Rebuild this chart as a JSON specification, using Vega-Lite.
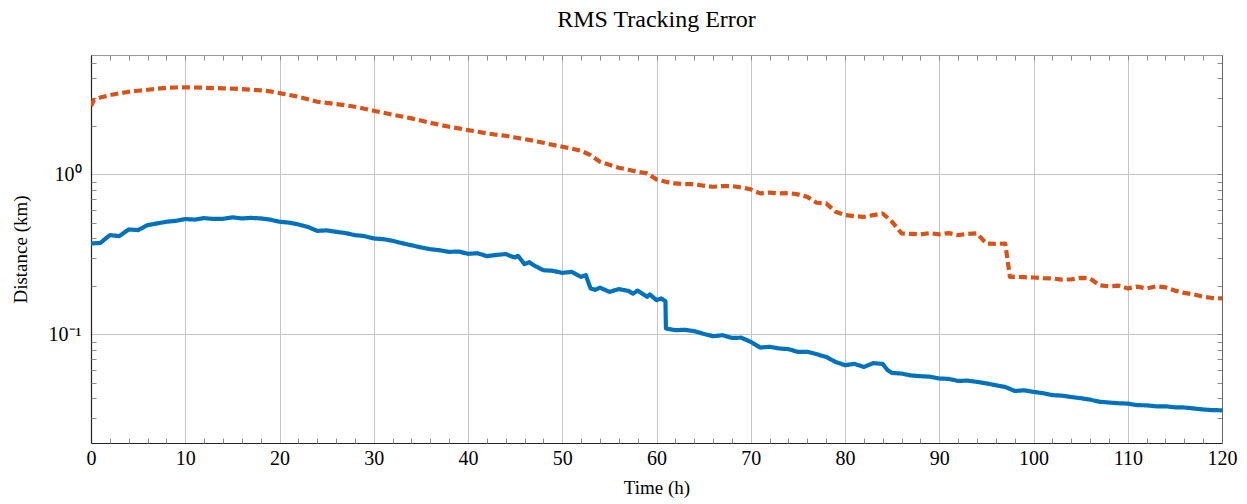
{
  "$schema": "https://vega.github.io/schema/vega-lite/v6.json",
  "width": 1131,
  "height": 388,
  "autosize": {"type": "none"},
  "padding": {"left": 91, "top": 55, "right": 25, "bottom": 61},
  "background": "white",
  "config": {
    "font": "Liberation Serif",
    "view": {"stroke": null},
    "axis": {"labelFont": "Liberation Serif", "titleFont": "Liberation Serif", "labelColor": "black", "titleColor": "black", "titleFontWeight": "normal"}
  },
  "title": {"text": "RMS Tracking Error", "font": "Liberation Serif", "fontSize": 24, "fontWeight": "normal", "color": "black", "offset": 23},
  "datasets": {
    "err": [
      {"t": 0, "v": 0.370, "s": "A"}, {"t": 1, "v": 0.3735, "s": "A"}, {"t": 2, "v": 0.4175, "s": "A"}, {"t": 3, "v": 0.4116, "s": "A"},
      {"t": 4, "v": 0.453, "s": "A"}, {"t": 5, "v": 0.449, "s": "A"}, {"t": 6, "v": 0.482, "s": "A"}, {"t": 7, "v": 0.494, "s": "A"},
      {"t": 8, "v": 0.506, "s": "A"}, {"t": 9, "v": 0.513, "s": "A"}, {"t": 10, "v": 0.526, "s": "A"}, {"t": 11, "v": 0.522, "s": "A"},
      {"t": 12, "v": 0.533, "s": "A"}, {"t": 13, "v": 0.527, "s": "A"}, {"t": 14, "v": 0.528, "s": "A"}, {"t": 15, "v": 0.539, "s": "A"},
      {"t": 16, "v": 0.531, "s": "A"}, {"t": 17, "v": 0.535, "s": "A"}, {"t": 18, "v": 0.531, "s": "A"}, {"t": 19, "v": 0.522, "s": "A"},
      {"t": 20, "v": 0.506, "s": "A"}, {"t": 21, "v": 0.500, "s": "A"}, {"t": 22, "v": 0.487, "s": "A"}, {"t": 23, "v": 0.470, "s": "A"},
      {"t": 24, "v": 0.444, "s": "A"}, {"t": 25, "v": 0.447, "s": "A"}, {"t": 26, "v": 0.438, "s": "A"}, {"t": 27, "v": 0.430, "s": "A"},
      {"t": 28, "v": 0.4175, "s": "A"}, {"t": 29, "v": 0.412, "s": "A"}, {"t": 30, "v": 0.398, "s": "A"}, {"t": 31, "v": 0.394, "s": "A"},
      {"t": 32, "v": 0.385, "s": "A"}, {"t": 33, "v": 0.372, "s": "A"}, {"t": 34, "v": 0.361, "s": "A"}, {"t": 35, "v": 0.350, "s": "A"},
      {"t": 36, "v": 0.341, "s": "A"}, {"t": 37, "v": 0.336, "s": "A"}, {"t": 38, "v": 0.328, "s": "A"}, {"t": 39, "v": 0.330, "s": "A"},
      {"t": 40, "v": 0.319, "s": "A"}, {"t": 41, "v": 0.322, "s": "A"}, {"t": 42, "v": 0.3086, "s": "A"}, {"t": 43, "v": 0.314, "s": "A"},
      {"t": 44, "v": 0.318, "s": "A"}, {"t": 44.7, "v": 0.306, "s": "A"}, {"t": 45, "v": 0.303, "s": "A"}, {"t": 45.3, "v": 0.310, "s": "A"},
      {"t": 46, "v": 0.275, "s": "A"}, {"t": 46.5, "v": 0.283, "s": "A"}, {"t": 47, "v": 0.270, "s": "A"}, {"t": 48, "v": 0.252, "s": "A"},
      {"t": 49, "v": 0.250, "s": "A"}, {"t": 50, "v": 0.2427, "s": "A"}, {"t": 51, "v": 0.246, "s": "A"}, {"t": 52, "v": 0.229, "s": "A"},
      {"t": 52.5, "v": 0.235, "s": "A"}, {"t": 53, "v": 0.194, "s": "A"}, {"t": 53.5, "v": 0.190, "s": "A"}, {"t": 54, "v": 0.196, "s": "A"},
      {"t": 55, "v": 0.1846, "s": "A"}, {"t": 56, "v": 0.192, "s": "A"}, {"t": 57, "v": 0.1873, "s": "A"}, {"t": 57.5, "v": 0.180, "s": "A"},
      {"t": 58, "v": 0.188, "s": "A"}, {"t": 59, "v": 0.172, "s": "A"}, {"t": 59.3, "v": 0.178, "s": "A"}, {"t": 60, "v": 0.1638, "s": "A"},
      {"t": 60.5, "v": 0.168, "s": "A"}, {"t": 60.95, "v": 0.1615, "s": "A"}, {"t": 61, "v": 0.109, "s": "A"}, {"t": 62, "v": 0.1064, "s": "A"},
      {"t": 63, "v": 0.107, "s": "A"}, {"t": 64, "v": 0.1049, "s": "A"}, {"t": 65, "v": 0.101, "s": "A"}, {"t": 66, "v": 0.0976, "s": "A"},
      {"t": 67, "v": 0.099, "s": "A"}, {"t": 68, "v": 0.0952, "s": "A"}, {"t": 69, "v": 0.0955, "s": "A"}, {"t": 70, "v": 0.0899, "s": "A"},
      {"t": 71, "v": 0.0829, "s": "A"}, {"t": 72, "v": 0.0838, "s": "A"}, {"t": 73, "v": 0.0818, "s": "A"}, {"t": 74, "v": 0.081, "s": "A"},
      {"t": 75, "v": 0.0779, "s": "A"}, {"t": 76, "v": 0.078, "s": "A"}, {"t": 77, "v": 0.0753, "s": "A"}, {"t": 78, "v": 0.0724, "s": "A"},
      {"t": 79, "v": 0.0674, "s": "A"}, {"t": 80, "v": 0.0643, "s": "A"}, {"t": 81, "v": 0.0655, "s": "A"}, {"t": 82, "v": 0.0627, "s": "A"},
      {"t": 83, "v": 0.0662, "s": "A"}, {"t": 84, "v": 0.0655, "s": "A"}, {"t": 84.5, "v": 0.060, "s": "A"}, {"t": 85, "v": 0.0575, "s": "A"},
      {"t": 86, "v": 0.057, "s": "A"}, {"t": 87, "v": 0.0555, "s": "A"}, {"t": 88, "v": 0.0549, "s": "A"}, {"t": 89, "v": 0.0545, "s": "A"},
      {"t": 90, "v": 0.0531, "s": "A"}, {"t": 91, "v": 0.0528, "s": "A"}, {"t": 92, "v": 0.0513, "s": "A"}, {"t": 93, "v": 0.0515, "s": "A"},
      {"t": 94, "v": 0.0506, "s": "A"}, {"t": 95, "v": 0.0495, "s": "A"}, {"t": 96, "v": 0.0482, "s": "A"}, {"t": 97, "v": 0.047, "s": "A"},
      {"t": 98, "v": 0.0444, "s": "A"}, {"t": 99, "v": 0.0448, "s": "A"}, {"t": 100, "v": 0.0438, "s": "A"}, {"t": 101, "v": 0.043, "s": "A"},
      {"t": 102, "v": 0.0418, "s": "A"}, {"t": 103, "v": 0.0415, "s": "A"}, {"t": 104, "v": 0.0407, "s": "A"}, {"t": 105, "v": 0.040, "s": "A"},
      {"t": 106, "v": 0.0392, "s": "A"}, {"t": 107, "v": 0.038, "s": "A"}, {"t": 108, "v": 0.0376, "s": "A"}, {"t": 109, "v": 0.0372, "s": "A"},
      {"t": 110, "v": 0.037, "s": "A"}, {"t": 111, "v": 0.0362, "s": "A"}, {"t": 112, "v": 0.0361, "s": "A"}, {"t": 113, "v": 0.0356, "s": "A"},
      {"t": 114, "v": 0.0356, "s": "A"}, {"t": 115, "v": 0.0351, "s": "A"}, {"t": 116, "v": 0.035, "s": "A"}, {"t": 117, "v": 0.0345, "s": "A"},
      {"t": 118, "v": 0.034, "s": "A"}, {"t": 119, "v": 0.0337, "s": "A"}, {"t": 120, "v": 0.0336, "s": "A"},
      {"t": 0, "v": 2.673, "s": "B"}, {"t": 0.3, "v": 2.913, "s": "B"}, {"t": 1, "v": 3.02, "s": "B"}, {"t": 2, "v": 3.131, "s": "B"},
      {"t": 3, "v": 3.21, "s": "B"}, {"t": 4, "v": 3.284, "s": "B"}, {"t": 5, "v": 3.33, "s": "B"}, {"t": 6, "v": 3.379, "s": "B"},
      {"t": 7, "v": 3.43, "s": "B"}, {"t": 8, "v": 3.478, "s": "B"}, {"t": 9, "v": 3.49, "s": "B"}, {"t": 10, "v": 3.498, "s": "B"},
      {"t": 11, "v": 3.49, "s": "B"}, {"t": 12, "v": 3.478, "s": "B"}, {"t": 13, "v": 3.46, "s": "B"}, {"t": 14, "v": 3.448, "s": "B"},
      {"t": 15, "v": 3.43, "s": "B"}, {"t": 16, "v": 3.413, "s": "B"}, {"t": 17, "v": 3.38, "s": "B"}, {"t": 18, "v": 3.35, "s": "B"},
      {"t": 19, "v": 3.30, "s": "B"}, {"t": 20, "v": 3.222, "s": "B"}, {"t": 21, "v": 3.14, "s": "B"}, {"t": 22, "v": 3.055, "s": "B"},
      {"t": 23, "v": 2.95, "s": "B"}, {"t": 24, "v": 2.843, "s": "B"}, {"t": 25, "v": 2.80, "s": "B"}, {"t": 26, "v": 2.75, "s": "B"},
      {"t": 27, "v": 2.70, "s": "B"}, {"t": 28, "v": 2.646, "s": "B"}, {"t": 29, "v": 2.57, "s": "B"}, {"t": 30, "v": 2.498, "s": "B"},
      {"t": 31, "v": 2.43, "s": "B"}, {"t": 32, "v": 2.358, "s": "B"}, {"t": 33, "v": 2.30, "s": "B"}, {"t": 34, "v": 2.239, "s": "B"},
      {"t": 35, "v": 2.17, "s": "B"}, {"t": 36, "v": 2.101, "s": "B"}, {"t": 37, "v": 2.04, "s": "B"}, {"t": 38, "v": 1.984, "s": "B"},
      {"t": 39, "v": 1.94, "s": "B"}, {"t": 40, "v": 1.892, "s": "B"}, {"t": 41, "v": 1.85, "s": "B"}, {"t": 42, "v": 1.804, "s": "B"},
      {"t": 43, "v": 1.77, "s": "B"}, {"t": 44, "v": 1.743, "s": "B"}, {"t": 45, "v": 1.70, "s": "B"}, {"t": 46, "v": 1.662, "s": "B"},
      {"t": 47, "v": 1.62, "s": "B"}, {"t": 48, "v": 1.576, "s": "B"}, {"t": 49, "v": 1.53, "s": "B"}, {"t": 50, "v": 1.488, "s": "B"},
      {"t": 51, "v": 1.45, "s": "B"}, {"t": 52, "v": 1.404, "s": "B"}, {"t": 53, "v": 1.32, "s": "B"}, {"t": 54, "v": 1.199, "s": "B"},
      {"t": 55, "v": 1.15, "s": "B"}, {"t": 56, "v": 1.10, "s": "B"}, {"t": 57, "v": 1.07, "s": "B"}, {"t": 58, "v": 1.038, "s": "B"},
      {"t": 59, "v": 1.014, "s": "B"}, {"t": 60, "v": 0.931, "s": "B"}, {"t": 61, "v": 0.899, "s": "B"}, {"t": 62, "v": 0.878, "s": "B"},
      {"t": 63, "v": 0.87, "s": "B"}, {"t": 64, "v": 0.87, "s": "B"}, {"t": 65, "v": 0.85, "s": "B"}, {"t": 66, "v": 0.837, "s": "B"},
      {"t": 67, "v": 0.845, "s": "B"}, {"t": 68, "v": 0.845, "s": "B"}, {"t": 69, "v": 0.83, "s": "B"}, {"t": 70, "v": 0.806, "s": "B"},
      {"t": 71, "v": 0.761, "s": "B"}, {"t": 72, "v": 0.77, "s": "B"}, {"t": 73, "v": 0.761, "s": "B"}, {"t": 74, "v": 0.765, "s": "B"},
      {"t": 75, "v": 0.75, "s": "B"}, {"t": 76, "v": 0.724, "s": "B"}, {"t": 77, "v": 0.665, "s": "B"}, {"t": 78, "v": 0.659, "s": "B"},
      {"t": 79, "v": 0.584, "s": "B"}, {"t": 80, "v": 0.557, "s": "B"}, {"t": 81, "v": 0.548, "s": "B"}, {"t": 82, "v": 0.543, "s": "B"},
      {"t": 83, "v": 0.557, "s": "B"}, {"t": 84, "v": 0.57, "s": "B"}, {"t": 85, "v": 0.505, "s": "B"}, {"t": 86, "v": 0.428, "s": "B"},
      {"t": 87, "v": 0.425, "s": "B"}, {"t": 88, "v": 0.422, "s": "B"}, {"t": 89, "v": 0.43, "s": "B"}, {"t": 90, "v": 0.422, "s": "B"},
      {"t": 91, "v": 0.43, "s": "B"}, {"t": 92, "v": 0.418, "s": "B"}, {"t": 93, "v": 0.425, "s": "B"}, {"t": 94, "v": 0.428, "s": "B"},
      {"t": 95, "v": 0.37, "s": "B"}, {"t": 96, "v": 0.368, "s": "B"}, {"t": 97, "v": 0.37, "s": "B"}, {"t": 97.5, "v": 0.229, "s": "B"},
      {"t": 98, "v": 0.229, "s": "B"}, {"t": 99, "v": 0.228, "s": "B"}, {"t": 100, "v": 0.227, "s": "B"}, {"t": 101, "v": 0.225, "s": "B"},
      {"t": 102, "v": 0.224, "s": "B"}, {"t": 103, "v": 0.22, "s": "B"}, {"t": 104, "v": 0.221, "s": "B"}, {"t": 105, "v": 0.226, "s": "B"},
      {"t": 106, "v": 0.224, "s": "B"}, {"t": 107, "v": 0.203, "s": "B"}, {"t": 108, "v": 0.20, "s": "B"}, {"t": 109, "v": 0.202, "s": "B"},
      {"t": 110, "v": 0.194, "s": "B"}, {"t": 111, "v": 0.199, "s": "B"}, {"t": 112, "v": 0.194, "s": "B"}, {"t": 113, "v": 0.20, "s": "B"},
      {"t": 114, "v": 0.197, "s": "B"}, {"t": 115, "v": 0.188, "s": "B"}, {"t": 116, "v": 0.182, "s": "B"}, {"t": 117, "v": 0.178, "s": "B"},
      {"t": 118, "v": 0.172, "s": "B"}, {"t": 119, "v": 0.169, "s": "B"}, {"t": 120, "v": 0.168, "s": "B"}
    ]
  },
  "data": {"name": "err"},
  "resolve": {"axis": {"x": "independent", "y": "independent"}},
  "layer": [
    {
      "mark": {"type": "line", "strokeWidth": 4.2, "strokeCap": "butt", "strokeJoin": "round", "clip": true},
      "encoding": {
        "x": {"field": "t", "type": "quantitative", "scale": {"domain": [0, 120], "nice": false, "zero": false},
          "axis": {"orient": "bottom", "values": [0, 10, 20, 30, 40, 50, 60, 70, 80, 90, 100, 110, 120], "grid": true, "gridColor": "#c4c4c4", "gridWidth": 1, "ticks": false, "domain": true, "domainColor": "#222222", "domainWidth": 1.2, "labelFontSize": 20, "labelPadding": 5, "labelFlush": false, "title": "Time (h)", "titleFontSize": 19, "titlePadding": 10}},
        "y": {"field": "v", "type": "quantitative", "scale": {"type": "log", "domain": [0.021, 5.57], "nice": false},
          "axis": {"orient": "left", "values": [0.1, 1], "grid": true, "gridColor": "#c4c4c4", "gridWidth": 1, "ticks": false, "domain": true, "domainColor": "#222222", "domainWidth": 1.2, "labelFontSize": 20, "labelPadding": 10, "labelExpr": "datum.value >= 1 ? '10⁰' : '10⁻¹'", "title": "Distance (km)", "titleFontSize": 19, "titlePadding": 18}},
        "color": {"field": "s", "type": "nominal", "scale": {"domain": ["A", "B"], "range": ["#0072BD", "#D95319"]}, "legend": null},
        "strokeDash": {"field": "s", "type": "nominal", "scale": {"domain": ["A", "B"], "range": [[1, 0], [8, 4]]}, "legend": null}
      }
    },
    {
      "mark": {"type": "point", "opacity": 0},
      "encoding": {
        "x": {"field": "t", "type": "quantitative", "axis": {"orient": "bottom", "values": [2, 4, 6, 8, 12, 14, 16, 18, 22, 24, 26, 28, 32, 34, 36, 38, 42, 44, 46, 48, 52, 54, 56, 58, 62, 64, 66, 68, 72, 74, 76, 78, 82, 84, 86, 88, 92, 94, 96, 98, 102, 104, 106, 108, 112, 114, 116, 118], "grid": false, "labels": false, "domain": false, "ticks": true, "tickSize": -5, "tickColor": "#8a8a8a", "title": null}},
        "y": {"field": "v", "type": "quantitative", "axis": {"orient": "left", "values": [0.03, 0.04, 0.05, 0.06, 0.07, 0.08, 0.09, 0.2, 0.3, 0.4, 0.5, 0.6, 0.7, 0.8, 0.9, 2, 3, 4, 5], "grid": false, "labels": false, "domain": false, "ticks": true, "tickSize": -5, "tickColor": "#8a8a8a", "title": null}}
      }
    },
    {
      "mark": {"type": "point", "opacity": 0},
      "encoding": {
        "x": {"field": "t", "type": "quantitative", "axis": {"orient": "top", "values": [0, 2, 4, 6, 8, 10, 12, 14, 16, 18, 20, 22, 24, 26, 28, 30, 32, 34, 36, 38, 40, 42, 44, 46, 48, 50, 52, 54, 56, 58, 60, 62, 64, 66, 68, 70, 72, 74, 76, 78, 80, 82, 84, 86, 88, 90, 92, 94, 96, 98, 100, 102, 104, 106, 108, 110, 112, 114, 116, 118, 120], "grid": false, "labels": false, "domain": true, "domainColor": "#9a9a9a", "ticks": true, "tickSize": -5, "tickColor": "#8a8a8a", "title": null}},
        "y": {"field": "v", "type": "quantitative", "axis": {"orient": "right", "values": [0.03, 0.04, 0.05, 0.06, 0.07, 0.08, 0.09, 0.1, 0.2, 0.3, 0.4, 0.5, 0.6, 0.7, 0.8, 0.9, 1, 2, 3, 4, 5], "grid": false, "labels": false, "domain": true, "domainColor": "#666666", "ticks": true, "tickSize": -5, "tickColor": "#8a8a8a", "title": null}}
      }
    }
  ]
}
